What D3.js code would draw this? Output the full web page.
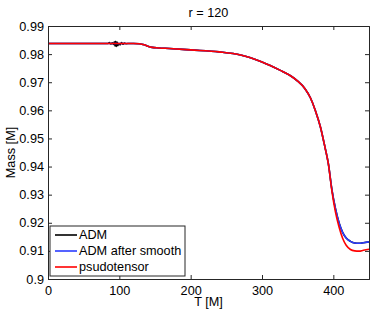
<!DOCTYPE html>
<html>
<head>
<meta charset="utf-8">
<script src="https://cdn.jsdelivr.net/npm/d3@7"></script>
<style>
  body { margin: 0; background: #fff; }
  svg { display: block; font-family: "Liberation Sans", Arial, Helvetica, sans-serif; }
</style>
</head>
<body>
<svg id="chart"></svg>
<script>
// Mass vs time at r = 120

const W = 374;
const H = 311;
const margin = { top: 26, right: 5, bottom: 32, left: 48 };

const TITLE = "r = 120";
const X_LABEL = "T [M]";
const Y_LABEL = "Mass [M]";
const X_TICKS = [0, 100, 200, 300, 400];
const Y_TICKS = [0.9, 0.91, 0.92, 0.93, 0.94, 0.95, 0.96, 0.97, 0.98, 0.99];

// shared time samples for the smoothed ADM and pseudotensor curves
const T = [0, 50, 100, 120, 128, 135, 140, 146, 155, 170, 200, 240, 270, 300, 325, 340,
           350, 360, 368, 375, 382, 388, 393, 398, 403, 408, 413, 418, 424, 430, 436, 442, 450];
const massSmooth = [0.9838, 0.9838, 0.9838, 0.9838, 0.9837, 0.9833, 0.9828, 0.9824, 0.9822,
                    0.9820, 0.9815, 0.9808, 0.9797, 0.9772, 0.9743, 0.9723, 0.9704, 0.9678,
                    0.9644, 0.9598, 0.9540, 0.9472, 0.9410, 0.9318, 0.9250, 0.9200, 0.9166,
                    0.9146, 0.9134, 0.9128, 0.9127, 0.9129, 0.9132];
const massPseudo = [0.9838, 0.9838, 0.9838, 0.9838, 0.9837, 0.9833, 0.9828, 0.9824, 0.9822,
                    0.9820, 0.9815, 0.9808, 0.9797, 0.9772, 0.9743, 0.9723, 0.9704, 0.9678,
                    0.9644, 0.9598, 0.9540, 0.9472, 0.9410, 0.9313, 0.9238, 0.9185, 0.9145,
                    0.9120, 0.9105, 0.9100, 0.9099, 0.9102, 0.9106];

// raw ADM, noisy around T ~ 85-110
const T_ADM = [0, 50, 84, 86, 88, 90, 92, 93, 94, 95, 96, 97, 98, 99, 101, 103, 105, 107,
               110, 114, 120, 128, 135, 140, 146, 155, 170, 200, 240, 270, 300, 325, 340,
               350, 360, 368, 375, 382, 388, 393, 398, 403, 408, 413, 418, 424, 430, 436,
               442, 450];
const massADM = [0.9838, 0.9838, 0.9838, 0.9841, 0.9836, 0.9840, 0.9834, 0.9844, 0.9828,
                 0.9846, 0.9827, 0.9843, 0.9830, 0.9838, 0.9833, 0.9841, 0.9835, 0.9839,
                 0.9837, 0.9838, 0.9838, 0.9837, 0.9833, 0.9828, 0.9824, 0.9822, 0.9820,
                 0.9815, 0.9808, 0.9797, 0.9772, 0.9743, 0.9723, 0.9704, 0.9678, 0.9644,
                 0.9598, 0.9540, 0.9472, 0.9410, 0.9318, 0.9250, 0.9200, 0.9166, 0.9146,
                 0.9134, 0.9128, 0.9127, 0.9129, 0.9132];

const SERIES = [
    { name: "ADM", t: T_ADM, m: massADM, color: "#000000" },
    { name: "ADM after smooth", t: T, m: massSmooth, color: "#2b3cff" },
    { name: "psudotensor", t: T, m: massPseudo, color: "#ff0000" }
];

const svg = d3.select("#chart").attr("width", W).attr("height", H);

const x = d3.scaleLinear().domain([0, 450]).range([margin.left, W - margin.right]);
const y = d3.scaleLinear().domain([0.9, 0.99]).range([H - margin.bottom, margin.top]);

const AXIS_COLOR = "#262626";
const TICK_LEN = 4;
const FS = "12.7px";

// lines, clipped to the plot box
svg.append("clipPath").attr("id", "clip")
    .append("rect")
    .attr("x", x(0)).attr("y", y(0.99))
    .attr("width", x(450) - x(0)).attr("height", y(0.9) - y(0.99));

const line = d3.line()
    .x(d => x(d[0]))
    .y(d => y(d[1]))
    .curve(d3.curveMonotoneX);

const plot = svg.append("g").attr("clip-path", "url(#clip)");
SERIES.forEach(s => {
    plot.append("path")
        .attr("d", line(s.t.map((t, i) => [t, s.m[i]])))
        .attr("fill", "none")
        .attr("stroke", s.color)
        .attr("stroke-width", 1.6);
});

// axes: ticks point inward on all four sides (matlab box style)
const axBottom = svg.append("g")
    .attr("transform", `translate(0,${y(0.9)})`)
    .call(d3.axisBottom(x).tickValues(X_TICKS).tickSize(-TICK_LEN).tickPadding(7).tickFormat(d3.format("d")));
const axTop = svg.append("g")
    .attr("transform", `translate(0,${y(0.99)})`)
    .call(d3.axisTop(x).tickValues(X_TICKS).tickSize(-TICK_LEN).tickFormat(""));
const axLeft = svg.append("g")
    .attr("transform", `translate(${x(0)},0)`)
    .call(d3.axisLeft(y).tickValues(Y_TICKS).tickSize(-TICK_LEN).tickPadding(4).tickFormat(d => String(+d.toFixed(2))));
const axRight = svg.append("g")
    .attr("transform", `translate(${x(450)},0)`)
    .call(d3.axisRight(y).tickValues(Y_TICKS).tickSize(-TICK_LEN).tickFormat(""));

[axBottom, axTop, axLeft, axRight].forEach(a => {
    a.select(".domain").attr("stroke", AXIS_COLOR).attr("stroke-width", 1);
    a.selectAll(".tick line").attr("stroke", AXIS_COLOR);
    a.selectAll(".tick text").attr("fill", "#000").style("font-size", FS);
    a.attr("font-family", null).attr("font-size", null);
});

// titles
svg.append("text")
    .attr("x", (x(0) + x(450)) / 2).attr("y", 17)
    .attr("text-anchor", "middle")
    .style("font-size", FS)
    .text(TITLE);

svg.append("text")
    .attr("x", (x(0) + x(450)) / 2).attr("y", 306)
    .attr("text-anchor", "middle")
    .style("font-size", FS)
    .text(X_LABEL);

svg.append("text")
    .attr("transform", `translate(15,${(y(0.9) + y(0.99)) / 2}) rotate(-90)`)
    .attr("text-anchor", "middle")
    .style("font-size", FS)
    .text(Y_LABEL);

// legend box, lower left
const lg = svg.append("g").attr("transform", "translate(50,226)");
lg.append("rect")
    .attr("width", 135).attr("height", 50)
    .attr("fill", "#fff")
    .attr("stroke", AXIS_COLOR);

SERIES.forEach((s, i) => {
    const ly = 9 + i * 16;
    lg.append("line")
        .attr("x1", 5).attr("x2", 27)
        .attr("y1", ly).attr("y2", ly)
        .attr("stroke", s.color)
        .attr("stroke-width", 1.6);
    lg.append("text")
        .attr("x", 29).attr("y", ly)
        .attr("dy", "0.35em")
        .style("font-size", FS)
        .text(s.name);
});
</script>
</body>
</html>
